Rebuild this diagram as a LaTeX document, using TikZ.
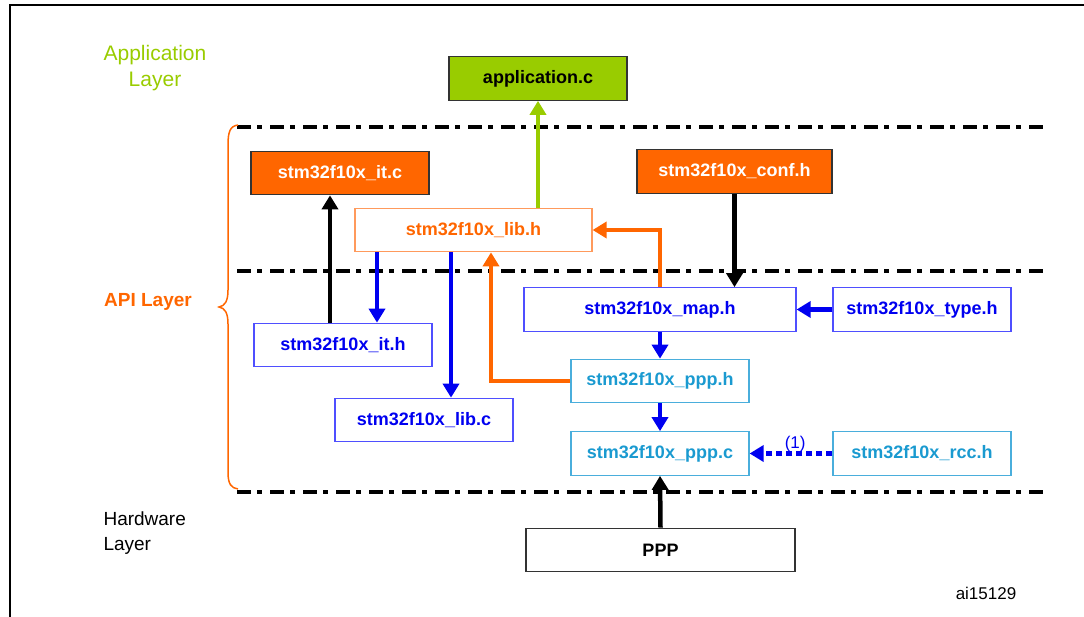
\documentclass[tikz,border=0pt]{standalone}
\usepackage{fontspec}
\setmainfont{Liberation Sans}
\usetikzlibrary{arrows.meta}

\definecolor{appgreen}{HTML}{99CC00}
\definecolor{apiorange}{HTML}{FF6600}
\definecolor{libborder}{HTML}{FF9A5C}
\definecolor{apiblue}{HTML}{0000F0}
\definecolor{blueborder}{HTML}{4F4FFF}
\definecolor{pppcyan}{HTML}{1A9AD0}
\definecolor{pppborder}{HTML}{4AAEDC}

\begin{document}
\begin{tikzpicture}[x=1pt, y=-1pt,
		filebox/.style={rectangle, inner sep=0pt, minimum height=43.5pt, line width=1.2pt, font=\fontsize{18}{20}\selectfont\bfseries},
		darkbox/.style={filebox, draw=black!80, fill=apiorange, text=white},
		bluebox/.style={filebox, draw=blueborder, text=apiblue},
		pppbox/.style={filebox, draw=pppborder, text=pppcyan},
		arr/.style={line width=4.5pt, -{Triangle[length=14pt, width=16pt]}},
		layerline/.style={line width=4pt, dash pattern=on 14pt off 6pt on 5pt off 8pt}]
	\useasboundingbox (0,0) rectangle (1084,617);
	\draw[line width=2pt] (10,617) -- (10,5) -- (1084,5);
	
	% layer labels
	\node[align=center, text=appgreen, font=\fontsize{21}{26}\selectfont] (applayer) at (155,68) {Application\\Layer};
	\node[text=apiorange, font=\fontsize{19}{22}\selectfont\bfseries] (apilayer) at (148,302) {API Layer};
	\node[anchor=west, align=left, font=\fontsize{19}{25}\selectfont] (hwlayer) at (100,533.5) {Hardware\\Layer};
	\node[font=\fontsize{17}{20}\selectfont] (figid) at (986,593) {ai15129};
	
	\foreach \y in {127, 271, 492}
	{
		\draw[layerline] (237,\y) -- (1043,\y);
	}
	\draw[apiorange, line width=1.5pt] (238,125) .. controls (230,126) and (228,132) .. (228,145) -- (228,290) .. controls (228,301) and (225,306) .. (219,307) .. controls (225,308) and (228,313) .. (228,324) -- (228,472) .. controls (228,484) and (231,488) .. (238,489);
	
	% file boxes
	\node[filebox, draw=black!80, fill=appgreen, minimum width=178pt] (app) at (538,78.5) {application.c};
	\node[darkbox, minimum width=178pt] (itc) at (340,173) {stm32f10x\_it.c};
	\node[darkbox, minimum width=195pt] (conf) at (734.5,171.5) {stm32f10x\_conf.h};
	\node[filebox, draw=libborder, fill=white, text=apiorange, minimum width=237pt] (libh) at (473.5,230) {stm32f10x\_lib.h};
	\node[bluebox, minimum width=178pt] (ith) at (343,345) {stm32f10x\_it.h};
	\node[bluebox, minimum width=178pt] (libc) at (424,420) {stm32f10x\_lib.c};
	\node[bluebox, minimum width=272pt] (maph) at (660,309.5) {stm32f10x\_map.h};
	\node[bluebox, minimum width=178pt] (typeh) at (922,309.5) {stm32f10x\_type.h};
	\node[pppbox, minimum width=178pt] (ppph) at (660,381) {stm32f10x\_ppp.h};
	\node[pppbox, minimum width=178pt] (pppc) at (660,453.5) {stm32f10x\_ppp.c};
	\node[pppbox, minimum width=178pt] (rcch) at (922,453.5) {stm32f10x\_rcc.h};
	\node[filebox, draw=black!80, minimum width=269pt] (ppp) at (660.5,550) {PPP};
	
	% connectors
	\draw[arr, appgreen, line width=3.5pt] (app.south |- libh.north) -- (app.south);
	\draw[arr, black] ([xshift=-13pt]ith.north) -- ([xshift=-13pt]ith.north |- itc.south);
	\draw[arr, apiblue] ([xshift=-96.5pt]libh.south) -- ([xshift=-96.5pt]libh.south |- ith.north);
	\draw[arr, apiblue] ([xshift=-22.5pt]libh.south) -- ([xshift=-22.5pt]libh.south |- libc.north);
	\draw[arr, apiorange, line width=4pt] (ppph.west) -| ([xshift=17.5pt]libh.south);
	\draw[arr, apiorange, line width=4pt] (maph.north) |- (libh.east);
	\draw[arr, black] (conf.south) -- (conf.south |- maph.north);
	\draw[arr, apiblue] (typeh.west) -- (maph.east);
	\draw[arr, apiblue] (maph.south) -- (ppph.north);
	\draw[arr, apiblue] (ppph.south) -- (pppc.north);
	\draw[arr, apiblue, dash pattern=on 6pt off 4pt] (rcch.west) -- (pppc.east) node[pos=0.45, above=-4pt, font=\fontsize{17}{20}\selectfont, text=apiblue] {(1)};
	\draw[arr, black] (ppp.north) -- (pppc.south);
\end{tikzpicture}
\end{document}
